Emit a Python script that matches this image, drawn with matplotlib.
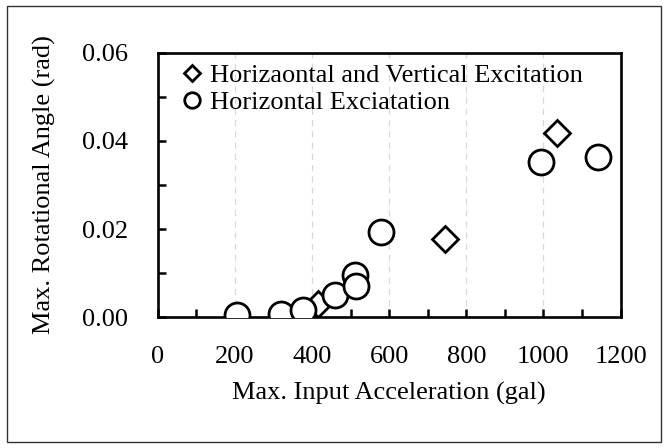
import matplotlib
matplotlib.use("Agg")
import matplotlib.pyplot as plt
from matplotlib.ticker import MultipleLocator, FormatStrFormatter
from matplotlib.patches import Rectangle

plt.rcParams['font.family'] = ['Liberation Serif', 'DejaVu Serif']

# horizontal + vertical excitation
hv_acc = [415, 746, 1034]
hv_angle = [0.003, 0.0177, 0.0418]

# horizontal excitation only
h_acc = [206, 319, 378, 460, 511, 513, 580, 994, 1141]
h_angle = [0.0005, 0.0008, 0.0016, 0.005, 0.0095, 0.007, 0.0194, 0.0353, 0.0363]

fig = plt.figure(figsize=(6.68, 4.48), dpi=100)
ax = fig.add_axes([0.236, 0.292, 0.693, 0.59])

ax.plot(hv_acc, hv_angle, linestyle='none', marker='D', markersize=13,
        markerfacecolor='white', markeredgecolor='black', markeredgewidth=2,
        label='Horizaontal and Vertical Excitation', zorder=3)
ax.plot(h_acc, h_angle, linestyle='none', marker='o', markersize=18,
        markerfacecolor='white', markeredgecolor='black', markeredgewidth=2,
        label='Horizontal Exciatation', zorder=4)

ax.set_xlim(0, 1200)
ax.set_ylim(0, 0.06)
ax.xaxis.set_major_locator(MultipleLocator(200))
ax.xaxis.set_minor_locator(MultipleLocator(100))
ax.yaxis.set_major_locator(MultipleLocator(0.02))
ax.yaxis.set_minor_locator(MultipleLocator(0.01))
ax.yaxis.set_major_formatter(FormatStrFormatter('%.2f'))

ax.tick_params(which='both', direction='in', width=1.8, length=5.5, labelsize=19)
ax.tick_params(axis='y', pad=21)
ax.tick_params(axis='x', pad=21)
for s in ax.spines.values():
    s.set_linewidth(1.9)

for gx in [200, 400, 600, 800, 1000]:
    ax.axvline(gx, color='#d9d9d9', linestyle=(0, (5, 4)), linewidth=0.9, zorder=0)

ax.set_xlabel('Max. Input Acceleration (gal)', fontsize=19, labelpad=10)
ax.set_ylabel('Max. Rotational Angle (rad)', fontsize=19, labelpad=19)

leg = ax.legend(loc='upper left', frameon=False, fontsize=19, markerscale=0.62,
                handlelength=0.6, handletextpad=0.4, labelspacing=0.12,
                borderaxespad=0.0, bbox_to_anchor=(0.0335, 0.998))

fig.patches.append(Rectangle((0.011, 0.013), 0.978, 0.973, transform=fig.transFigure,
                             fill=False, edgecolor='#333333', linewidth=1.0))

fig.savefig('out.png', dpi=100)
